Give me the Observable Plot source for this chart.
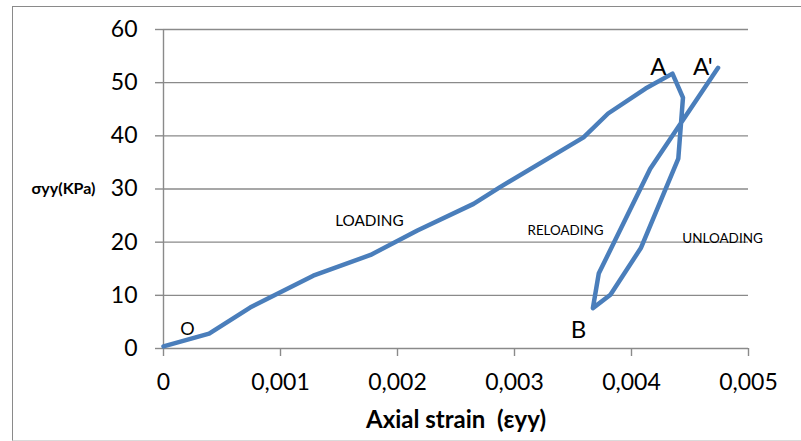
<!DOCTYPE html>
<html><head><meta charset="utf-8">
<script src="https://cdn.jsdelivr.net/npm/d3@7"></script>
<script src="https://cdn.jsdelivr.net/npm/@observablehq/plot@0.6"></script>
<style>
body{margin:0;background:#fff;}
#wrap{position:relative;width:801px;height:441px;overflow:hidden;}
#border{position:absolute;left:12px;top:6px;width:800px;height:433px;border-left:1px solid #8a8a8a;border-top:1px solid #8a8a8a;border-bottom:1px solid #dadada;}
#chart{position:absolute;left:0;top:0;}
</style></head>
<body>
<div id="wrap"><div id="border"></div><div id="chart"></div></div>
<script>
// Loading branch O -> A
const loadingStrain = [0, 0.00039, 0.00074, 0.00128, 0.00177, 0.00217, 0.00265, 0.00288, 0.00359, 0.00380, 0.00412, 0.00435];
const loadingStress = [0.4, 2.8, 7.7, 13.7, 17.6, 22.2, 27.2, 30.4, 39.7, 44.2, 48.9, 51.7];
// Unloading branch A -> B
const unloadingStrain = [0.00444, 0.00440, 0.00408, 0.00382, 0.00367];
const unloadingStress = [47.2, 35.7, 18.9, 10.1, 7.6];
// Reloading branch B -> A'
const reloadingStrain = [0.00372, 0.00416, 0.00474];
const reloadingStress = [14.1, 33.8, 52.8];

const xTicks = [0, 0.001, 0.002, 0.003, 0.004, 0.005];
const xTickLabels = ["0", "0,001", "0,002", "0,003", "0,004", "0,005"];
const yTicks = [0, 10, 20, 30, 40, 50, 60];

const labelText = ["O", "LOADING", "RELOADING", "UNLOADING", "A", "A'", "B"];
const labelStrain = [0.000205, 0.00176, 0.003436, 0.004778, 0.00423, 0.00461, 0.003547];
const labelStress = [3.7, 24.0, 22.2, 20.65, 52.9, 52.9, 3.5];
const labelSize = [18, 15.3, 13.4, 13.5, 24, 24, 24];

const path = [];
loadingStrain.forEach((x, i) => path.push({x, y: loadingStress[i]}));
unloadingStrain.forEach((x, i) => path.push({x, y: unloadingStress[i]}));
reloadingStrain.forEach((x, i) => path.push({x, y: reloadingStress[i]}));

const labels = labelText.map((t, i) => ({t, x: labelStrain[i], y: labelStress[i], s: labelSize[i]}));

const gray = "#8a8a8a";
const chart = Plot.plot({
  width: 801,
  height: 441,
  marginLeft: 163,
  marginRight: 53,
  marginTop: 29,
  marginBottom: 93,
  style: {fontFamily: "Lato, sans-serif", color: "black", background: "transparent", whiteSpace: "pre"},
  x: {domain: [0, 0.005], axis: null},
  y: {domain: [0, 60], axis: null},
  marks: [
    Plot.ruleY(yTicks, {stroke: gray, strokeWidth: 1.4}),
    Plot.ruleX([0], {stroke: gray, strokeWidth: 1.4}),
    Plot.axisY({ticks: yTicks, tickSize: 8, tickPadding: 18, fontSize: 23, stroke: gray, strokeWidth: 1.4, label: null, tickFormat: d => String(d)}),
    Plot.axisX({ticks: xTicks, tickSize: 8, tickPadding: 17, fontSize: 23, stroke: gray, strokeWidth: 1.4, label: null, tickFormat: d => xTickLabels[xTicks.indexOf(d)]}),
    Plot.line(path, {x: "x", y: "y", stroke: "#4a7ebb", strokeWidth: 4.5, strokeLinejoin: "round", strokeLinecap: "round"}),
    Plot.text(labels, {x: "x", y: "y", text: "t", fontSize: "s", fill: "black", textAnchor: "middle", lineAnchor: "middle"}),
    Plot.text(["σyy(KPa)"], {frameAnchor: "left", y: [30], text: d => d, dx: -100, fontSize: 16, fontWeight: "bold", textAnchor: "middle", lineAnchor: "middle", letterSpacing: "0.6px"}),
    Plot.text(["Axial strain  (εyy)"], {frameAnchor: "bottom", x: [0.0025], text: d => d, dy: 72, fontSize: 24, fontWeight: "bold", textAnchor: "middle", lineAnchor: "middle", letterSpacing: "0.7px"})
  ]
});
document.getElementById("chart").appendChild(chart);
</script>
</body></html>
